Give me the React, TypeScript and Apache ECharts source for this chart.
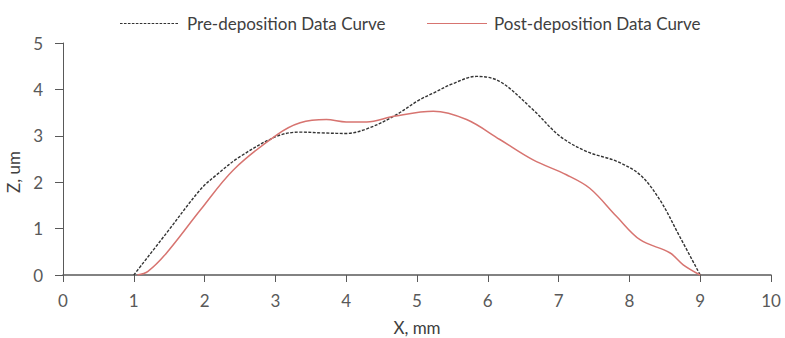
import React, { useEffect, useRef } from "react";
import * as echarts from "echarts";

const preX = [1.0, 1.46, 1.94, 2.17, 2.5, 3.02, 3.35, 3.7, 4.0, 4.29, 4.67, 5.04, 5.23, 5.5, 5.84, 6.17, 6.64, 7.02, 7.4, 7.82, 8.15, 8.43, 8.71, 9.0];
const preY = [0.0, 0.9, 1.84, 2.16, 2.55, 2.99, 3.08, 3.06, 3.05, 3.15, 3.42, 3.78, 3.92, 4.12, 4.28, 4.17, 3.56, 2.99, 2.66, 2.45, 2.16, 1.62, 0.83, 0.0];
const postX = [1.05, 1.2, 1.46, 1.94, 2.41, 3.02, 3.35, 3.72, 4.0, 4.29, 4.67, 5.23, 5.7, 6.17, 6.64, 7.11, 7.44, 7.82, 8.15, 8.57, 8.76, 9.0];
const postY = [0.0, 0.08, 0.47, 1.4, 2.27, 3.02, 3.28, 3.35, 3.3, 3.3, 3.42, 3.53, 3.35, 2.92, 2.48, 2.16, 1.87, 1.26, 0.76, 0.48, 0.22, 0.0];
const seriesNames = ["Pre-deposition Data Curve", "Post-deposition Data Curve"];
const xTitle = "X, mm";
const yTitle = "Z, um";

const FONT = "Lato, 'Open Sans', sans-serif";
const AXIS = "#595959";
const TEXT = "#404040";
const BLACK = "#333333";
const RED = "#D77470";

function dashIcon(w: number): string {
  let d = "path://";
  for (let x = 0; x < w; x += 4) d += `M${x},0h2.6v1h-2.6z`;
  return d;
}
const solidIcon = "path://M0,0h60v1h-60z";

export default function App() {
  const ref = useRef<HTMLDivElement>(null);
  useEffect(() => {
    if (!ref.current) return;
    const chart = echarts.init(ref.current, undefined, { renderer: "svg" });
    chart.setOption({
      animation: false,
      textStyle: { fontFamily: FONT },
      grid: { left: 63, right: 14, top: 43, bottom: 63, containLabel: false, outerBoundsMode: "none" },
      legend: [
        {
          top: 10,
          left: 115,
          itemWidth: 58,
          itemHeight: 1.3,
          textStyle: { fontFamily: FONT, fontSize: 17, color: TEXT, padding: [0, 0, 0, 4] },
          data: [{ name: seriesNames[0], icon: dashIcon(58) }],
        },
        {
          top: 10,
          left: 422,
          itemWidth: 60,
          itemHeight: 1.6,
          textStyle: { fontFamily: FONT, fontSize: 17, color: TEXT, padding: [0, 0, 0, 2] },
          data: [{ name: seriesNames[1], icon: solidIcon }],
        },
      ],
      xAxis: {
        type: "value",
        min: 0,
        max: 10,
        interval: 1,
        name: xTitle,
        nameLocation: "middle",
        nameGap: 44,
        nameTextStyle: { fontFamily: FONT, fontSize: 17, color: TEXT },
        axisLine: { show: true, lineStyle: { color: AXIS, width: 1.5 } },
        axisTick: { show: true, length: 7, lineStyle: { color: AXIS } },
        axisLabel: { fontFamily: FONT, fontSize: 17, color: AXIS, margin: 17 },
        splitLine: { show: false },
      },
      yAxis: {
        type: "value",
        min: 0,
        max: 5,
        interval: 1,
        name: yTitle,
        nameLocation: "middle",
        nameGap: 31,
        nameTextStyle: { fontFamily: FONT, fontSize: 17, color: TEXT, padding: [0, 26, 0, 0] },
        axisLine: { show: true, lineStyle: { color: AXIS, width: 1 } },
        axisTick: { show: true, length: 8, lineStyle: { color: AXIS } },
        axisLabel: { fontFamily: FONT, fontSize: 17, color: AXIS, margin: 20 },
        splitLine: { show: false },
      },
      series: [
        {
          name: seriesNames[0],
          type: "line",
          smooth: 0.35,
          symbol: "none",
          data: preX.map((x, i) => [x, preY[i]]),
          lineStyle: { color: BLACK, width: 1.4, type: [3, 1.5] },
          itemStyle: { color: BLACK },
        },
        {
          name: seriesNames[1],
          type: "line",
          smooth: 0.35,
          symbol: "none",
          data: postX.map((x, i) => [x, postY[i]]),
          lineStyle: { color: RED, width: 1.5 },
          itemStyle: { color: RED },
        },
      ],
    });
    return () => chart.dispose();
  }, []);
  return <div ref={ref} style={{ position: "absolute", left: 0, top: 0, width: 785, height: 338 }} />;
}
